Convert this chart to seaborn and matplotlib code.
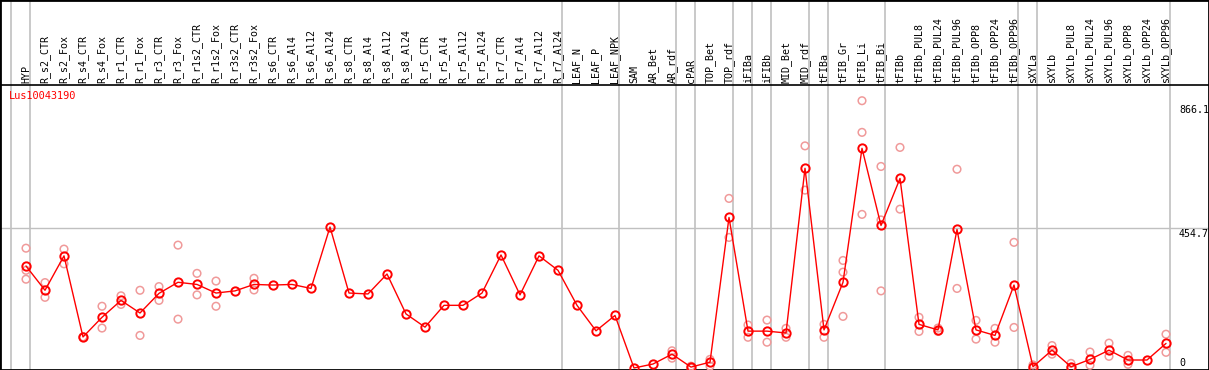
"""
Expression profile of Lus10043190 across tissues / treatments.
"""

import numpy as np
import pandas as pd
import matplotlib
matplotlib.use("Agg")
import matplotlib.pyplot as plt
import matplotlib.transforms as mtransforms
import seaborn as sns

gene_id = "Lus10043190"

samples = [
    "HYP", "R_s2_CTR", "R_s2_Fox", "R_s4_CTR", "R_s4_Fox", "R_r1_CTR", "R_r1_Fox",
    "R_r3_CTR", "R_r3_Fox", "R_r1s2_CTR", "R_r1s2_Fox", "R_r3s2_CTR", "R_r3s2_Fox",
    "R_s6_CTR", "R_s6_Al4", "R_s6_Al12", "R_s6_Al24", "R_s8_CTR", "R_s8_Al4",
    "R_s8_Al12", "R_s8_Al24", "R_r5_CTR", "R_r5_Al4", "R_r5_Al12", "R_r5_Al24",
    "R_r7_CTR", "R_r7_Al4", "R_r7_Al12", "R_r7_Al24", "LEAF_N", "LEAF_P", "LEAF_NPK",
    "SAM", "AR_Bet", "AR_rdf", "cPAR", "TOP_Bet", "TOP_rdf", "iFIBa", "iFIBb",
    "MID_Bet", "MID_rdf", "tFIBa", "tFIB_Gr", "tFIB_Li", "tFIB_Bi", "tFIBb",
    "tFIBb_PUL8", "tFIBb_PUL24", "tFIBb_PUL96", "tFIBb_OPP8", "tFIBb_OPP24",
    "tFIBb_OPP96", "sXYLa", "sXYLb", "sXYLb_PUL8", "sXYLb_PUL24", "sXYLb_PUL96",
    "sXYLb_OPP8", "sXYLb_OPP24", "sXYLb_OPP96",
]

# sample groups (number of samples in each block between gray separators)
group_sizes = [1, 28, 3, 3, 1, 2, 1, 1, 2, 1, 3, 7, 1, 7]

mean_expr = [
    332, 253, 365, 101, 165, 220, 179, 243, 279, 272, 244, 251, 272,
    270, 272, 259, 459, 244, 241, 306, 176, 133, 204, 204, 244,
    368, 238, 365, 318, 204, 121, 171,
    0, 13, 45, 3, 19, 490, 120, 120, 114, 650, 124, 279, 715, 464, 617,
    142, 124, 451, 124, 106, 270,
    4, 58, 4, 28, 58, 26, 26, 80,
]

replicates = [
    [390, 318, 289], [278, 230], [387, 339], [101, 101], [201, 130], [235, 207],
    [253, 106], [265, 220], [400, 159], [308, 238], [283, 201], [], [292, 254],
    [], [], [], [], [], [], [], [], [], [], [], [],
    [], [], [], [], [], [], [],
    [], [], [56, 32], [6, 0], [28, 6], [552, 425], [140, 100], [156, 84],
    [129, 100], [723, 579], [142, 100], [350, 312, 168], [870, 767, 500],
    [656, 482, 251], [718, 517],
    [165, 119], [130, 119], [647, 259], [155, 94], [129, 84], [409, 132],
    [10, 0], [73, 45], [15, 1], [52, 9], [81, 38], [41, 12], [], [110, 51],
]

y_ticks = [866.1, 454.7, 0]
y_tick_labels = ["866.1", "454.7", "0"]

df_mean = pd.DataFrame({"pos": np.arange(len(samples)), "expr": mean_expr})
df_rep = pd.DataFrame(
    [(i, v) for i, reps in enumerate(replicates) for v in reps],
    columns=["pos", "expr"],
)

sns.set_style("white")
plt.rcParams["font.family"] = ["DejaVu Sans Mono", "DejaVu Sans"]

W, H = 1209, 370
fig = plt.figure(figsize=(W / 100, H / 100), dpi=100)
ax = fig.add_axes([0, 0, 1, 1])

# pixel geometry of the original: first sample at x=26, 19 px apart,
# zero at y=368, 3.255 units per pixel
x0, dx = 26, 19
y_zero, scale = 368, 3.255
ax.set_xlim((0 - x0) / dx, (W - x0) / dx)
ax.set_ylim((y_zero - H) * scale, y_zero * scale)
header_y = (y_zero - 85) * scale

grey = "#c0c0c0"
for b in np.cumsum([0] + group_sizes) - 1 + 0.23:
    ax.axvline(b, color=grey, lw=1.2, zorder=1)
ax.axhline(y_ticks[1], color=grey, lw=1, zorder=1)
ax.axhline(header_y, color="black", lw=1.2, zorder=2)

sns.scatterplot(
    data=df_rep, x="pos", y="expr", ax=ax, marker="o", s=30,
    facecolor="none", edgecolor="#f09a9a", linewidth=1.1, zorder=3, legend=False,
)
sns.lineplot(
    data=df_mean, x="pos", y="expr", ax=ax, color="red", lw=1,
    marker="o", markersize=6, markerfacecolor="none",
    markeredgecolor="red", markeredgewidth=1.4, zorder=4, legend=False,
)

# sample labels in the header band
trans = mtransforms.blended_transform_factory(ax.transData, ax.transAxes)
for i, name in enumerate(samples):
    ax.text(i, 1 - 83 / H, name, transform=trans, rotation=90,
            ha="center", va="bottom", fontsize=7.2, color="black")

ax.text(9 / W, 1 - 91 / H, gene_id, transform=ax.transAxes,
        ha="left", va="top", fontsize=7.4, color="red")

tick_tops = [105, 229, 358]
for lab, top in zip(y_tick_labels, tick_tops):
    ax.text(1179 / W, 1 - top / H, lab, transform=ax.transAxes,
            ha="left", va="top", fontsize=7.2, color="black")

ax.set_xticks([])
ax.set_yticks([])
ax.set_xlabel("")
ax.set_ylabel("")
for sp in ax.spines.values():
    sp.set_visible(True)
    sp.set_color("black")
    sp.set_linewidth(2)

plt.savefig("out.png", dpi=100)
print("Saved: out.png")
